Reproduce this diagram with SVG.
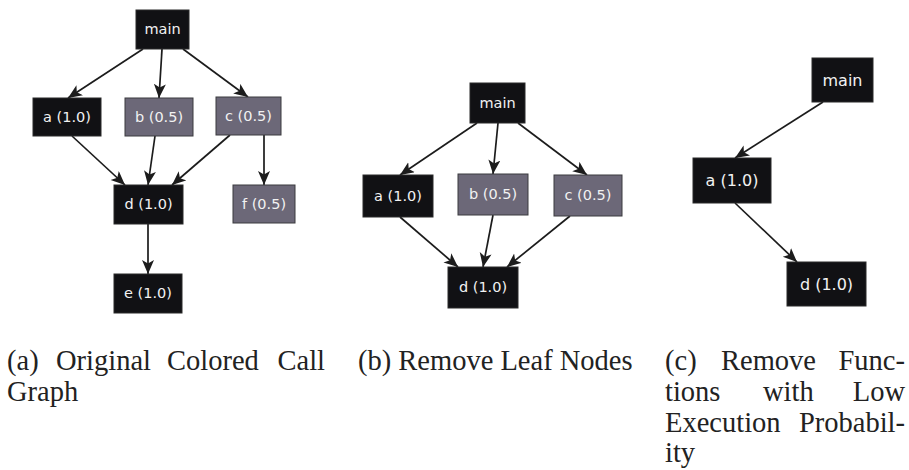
<svg xmlns="http://www.w3.org/2000/svg" width="909" height="470" viewBox="0 0 909 470">
  <style>
    .hot rect { fill: #111114; stroke: #2a2a2a; stroke-width: 1; }
    .warm rect { fill: #6c6878; stroke: #3a3a3e; stroke-width: 1; }
    .node text { font-family: "DejaVu Sans", sans-serif; font-size: 14.5px; fill: #f2f2f2; text-anchor: middle; }
    .big text { font-size: 16px; }
    .edges line { stroke: #1c1c1c; stroke-width: 1.7; marker-end: url(#arrow); }
    .cap { font-family: "Liberation Serif", "Times New Roman", serif; font-size: 28.5px; fill: #222; }
    .end { text-anchor: end; }
  </style>
  <defs>
    <marker id="arrow" markerUnits="userSpaceOnUse" markerWidth="15" markerHeight="13" refX="14" refY="6" orient="auto">
      <path d="M0,0 L14,6 L0,12 L3.5,6 z" fill="#1c1c1c"/>
    </marker>
  </defs>
  <rect width="909" height="470" fill="#ffffff"/>

  <!-- (a) original colored call graph -->
  <g id="edges-a" class="edges">
    <line x1="143" y1="49" x2="68" y2="98"/>
    <line x1="162" y1="49" x2="159" y2="98"/>
    <line x1="183" y1="49" x2="248" y2="97"/>
    <line x1="72" y1="136" x2="125" y2="185"/>
    <line x1="155" y1="136" x2="148" y2="185"/>
    <line x1="230" y1="135" x2="172" y2="185"/>
    <line x1="264" y1="135" x2="264" y2="185"/>
    <line x1="148" y1="224" x2="148" y2="274"/>
  </g>
  <g id="a-main" class="node hot"><rect x="136" y="10" width="53" height="39"/><text x="162.5" y="34">main</text></g>
  <g id="a-a" class="node hot"><rect x="33" y="98" width="68" height="38"/><text x="67" y="122">a (1.0)</text></g>
  <g id="a-b" class="node warm"><rect x="125" y="98" width="68" height="38"/><text x="159" y="122">b (0.5)</text></g>
  <g id="a-c" class="node warm"><rect x="216" y="97" width="65" height="38"/><text x="248.5" y="121">c (0.5)</text></g>
  <g id="a-d" class="node hot"><rect x="114" y="185" width="69" height="39"/><text x="148.5" y="209">d (1.0)</text></g>
  <g id="a-f" class="node warm"><rect x="233" y="185" width="62" height="38"/><text x="264" y="209">f (0.5)</text></g>
  <g id="a-e" class="node hot"><rect x="114" y="274" width="68" height="39"/><text x="148" y="298">e (1.0)</text></g>

  <!-- (b) after removing leaf nodes -->
  <g id="edges-b" class="edges">
    <line x1="477" y1="123" x2="400" y2="175"/>
    <line x1="498" y1="123" x2="493" y2="174"/>
    <line x1="518" y1="123" x2="587" y2="175"/>
    <line x1="400" y1="217" x2="458" y2="267"/>
    <line x1="493" y1="215" x2="483" y2="267"/>
    <line x1="570" y1="216" x2="507" y2="267"/>
  </g>
  <g id="b-main" class="node hot"><rect x="470" y="83" width="55" height="40"/><text x="497.5" y="108">main</text></g>
  <g id="b-a" class="node hot"><rect x="363" y="175" width="70" height="42"/><text x="398" y="201">a (1.0)</text></g>
  <g id="b-b" class="node warm"><rect x="458" y="174" width="70" height="41"/><text x="493" y="199">b (0.5)</text></g>
  <g id="b-c" class="node warm"><rect x="554" y="175" width="68" height="41"/><text x="588" y="200">c (0.5)</text></g>
  <g id="b-d" class="node hot"><rect x="448" y="267" width="70" height="41"/><text x="483" y="292">d (1.0)</text></g>

  <!-- (c) after removing low-probability functions -->
  <g id="edges-c" class="edges">
    <line x1="823" y1="102" x2="735" y2="158"/>
    <line x1="735" y1="203" x2="797" y2="262"/>
  </g>
  <g id="c-main" class="node hot big"><rect x="812" y="58" width="61" height="44"/><text x="842.5" y="86">main</text></g>
  <g id="c-a" class="node hot big"><rect x="693" y="158" width="78" height="45"/><text x="732" y="186">a (1.0)</text></g>
  <g id="c-d" class="node hot big"><rect x="787" y="262" width="79" height="44"/><text x="826.5" y="290">d (1.0)</text></g>

  <!-- captions; justified lines are set one word per text -->
  <g id="caption-a" class="cap">
    <text x="7" y="370">(a)</text>
    <text x="56" y="370">Original</text>
    <text x="167" y="370">Colored</text>
    <text class="end" x="325" y="370">Call</text>
    <text x="7" y="401">Graph</text>
  </g>
  <g id="caption-b" class="cap">
    <text x="358" y="370">(b) Remove Leaf Nodes</text>
  </g>
  <g id="caption-c" class="cap">
    <text x="665" y="370">(c)</text>
    <text x="721" y="370">Remove</text>
    <text class="end" x="905" y="370">Func-</text>
    <text x="665" y="401">tions</text>
    <text x="763" y="401">with</text>
    <text class="end" x="905" y="401">Low</text>
    <text x="665" y="432">Execution</text>
    <text class="end" x="905" y="432">Probabil-</text>
    <text x="665" y="462">ity</text>
  </g>
</svg>
